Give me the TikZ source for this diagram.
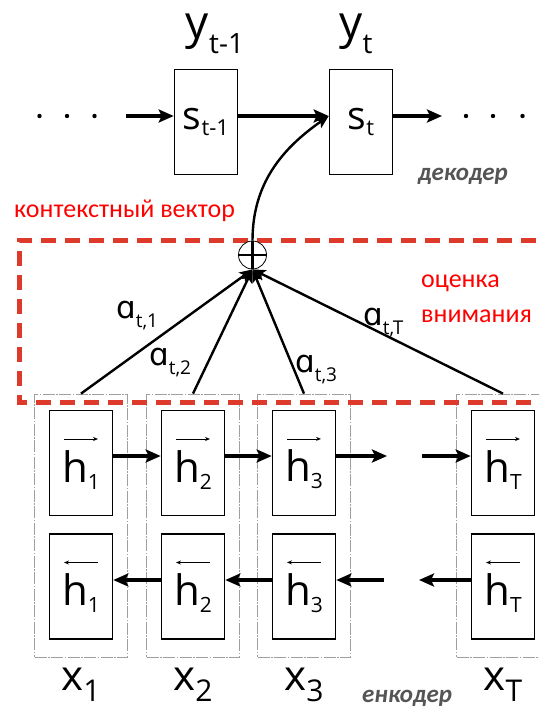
\documentclass[tikz,border=0pt]{standalone}
\usepackage{fontspec}
\setmainfont{Open Sans}
\newfontfamily\rufont{Carlito}
\newfontfamily\ipafont{DejaVu Sans}
\usetikzlibrary{arrows.meta}

\definecolor{attred}{RGB}{222,58,44}
\definecolor{capgray}{RGB}{85,85,85}
\newcommand\idx[3]{\raisebox{-#1}{\fontsize{#2}{#2}\selectfont #3}}
\newcommand\fwdvec{\tikz\draw[line width=0.8pt,-{Stealth[length=5pt,width=4pt]}] (0pt,0pt) -- (34pt,0pt);}
\newcommand\bwdvec{\tikz\draw[line width=0.8pt,{Stealth[length=5pt,width=4pt]}-] (0pt,0pt) -- (34pt,0pt);}

\begin{document}
\begin{tikzpicture}[x=1pt, y=-1pt,
  state/.style={draw, line width=1.6pt, minimum width=63pt, minimum height=105pt, inner sep=0pt, align=center},
  hstate/.style={state, font=\fontsize{42}{41}\selectfont},
  sstate/.style={state, font=\fontsize{39}{39}\selectfont},
  colbox/.style={draw=gray!75, line width=0.8pt, dash pattern=on 12pt off 1.5pt on 1.5pt off 1.5pt, minimum width=93pt, minimum height=263pt},
  arr/.style={-{Stealth[length=15pt,width=13pt,inset=3pt]}, line width=3.5pt},
  att/.style={-{Stealth[length=13pt,width=11pt,inset=3pt]}, line width=2.4pt},
  alab/.style={anchor=base west, inner sep=0pt, font=\fontsize{31}{31}\selectfont},
  ru/.style={inner sep=0pt, font=\rufont\fontsize{26}{26}\selectfont}]
\useasboundingbox (0,0) rectangle (539,709);
\clip (0,0) rectangle (539,709);
% encoder columns
\foreach \n/\x in {1/81,2/193,3/304,T/503} {
  \node[colbox] (c\n) at (\x,525.5) {};
  \node[hstate] (f\n) at (\x,463) {\fwdvec\\h\idx{7pt}{21}{\n}};
  \node[hstate] (b\n) at (\x,586.5) {\bwdvec\\h\idx{7pt}{21}{\n}};
  \node[anchor=base, inner sep=0pt, font=\fontsize{42}{42}\selectfont] (x\n) at (\x,690) {x\idx{11pt}{30}{\n}};
}
\coordinate (fout) at (387,456);
\coordinate (fin)  at (422,456);
\coordinate (bin)  at (384,580);
\coordinate (bout) at (419,580);
\draw[arr] ([yshift=7pt]f1.east) -- ([yshift=7pt]f2.west);
\draw[arr] ([yshift=7pt]f2.east) -- ([yshift=7pt]f3.west);
\draw[arr] ([yshift=7pt]f3.east) -- (fout);
\draw[arr] (fin) -- ([yshift=7pt]fT.west);
\draw[arr] ([yshift=6.5pt]b2.west) -- ([yshift=6.5pt]b1.east);
\draw[arr] ([yshift=6.5pt]b3.west) -- ([yshift=6.5pt]b2.east);
\draw[arr] (bin) -- ([yshift=6.5pt]b3.east);
\draw[arr] ([yshift=6.5pt]bT.west) -- (bout);
\node[ru, anchor=base west, font=\rufont\bfseries\itshape\fontsize{25}{25}\selectfont, text=capgray] (enc) at (362,702) {енкодер};

% decoder
\node[sstate] (st1) at (206,122) {s\idx{6pt}{22}{t-1}};
\node[sstate] (st)  at (361,122) {s\idx{6pt}{22}{t}};
\node[anchor=base, inner sep=0pt, font=\fontsize{46}{46}\selectfont] (yt1) at (215,38) {y\idx{15pt}{28}{t-1}};
\node[anchor=base, inner sep=0pt, font=\fontsize{46}{46}\selectfont] (yt)  at (356,38) {y\idx{15pt}{28}{t}};
\foreach \x in {39.5,67,94.5,466,493,522.5} \fill (\x,116) circle (2.2);
\coordinate (din)  at (125.5,116);
\coordinate (dout) at (442,116);
\draw[arr] (din) -- ([yshift=6pt]st1.west);
\draw[arr] ([yshift=6pt]st1.east) -- ([yshift=6pt]st.west);
\draw[arr] ([yshift=6pt]st.east) -- (dout);
\node[ru, anchor=base west, font=\rufont\bfseries\itshape\fontsize{25}{25}\selectfont, text=capgray] (dec) at (418,180) {декодер};

% attention
\draw[attred, line width=5pt, dash pattern=on 15pt off 9pt] (560,240) -- (19,240) -- (19,402) -- (560,402);
\node[ru, anchor=base west, text=red] (ctx) at (14,217) {контекстный вектор};
\node[ru, anchor=base west, text=red] (sc1) at (421,287) {оценка};
\node[ru, anchor=base west, text=red] (sc2) at (421,322) {внимания};
\node[draw, circle, minimum size=28pt, inner sep=0pt, fill=white, line width=0.8pt,
  path picture={\draw[line width=2.4pt] (path picture bounding box.north) -- (path picture bounding box.south)
    (path picture bounding box.west) -- (path picture bounding box.east);}] (sum) at (252.5,255) {};
\foreach \n in {1,2,3,T} \draw[att] (c\n.north) -- (sum.south);
\draw[att] (sum.north) to[out=90, in=215] ([yshift=6pt]st.west);
\node[alab] (a1) at (116,318) {{\ipafont ɑ}\idx{9pt}{19}{t,1}};
\node[alab] (a2) at (149,365) {{\ipafont ɑ}\idx{9pt}{19}{t,2}};
\node[alab] (a3) at (295,372) {{\ipafont ɑ}\idx{9pt}{19}{t,3}};
\node[alab] (aT) at (363,325) {{\ipafont ɑ}\idx{9pt}{19}{t,T}};
\end{tikzpicture}
\end{document}
